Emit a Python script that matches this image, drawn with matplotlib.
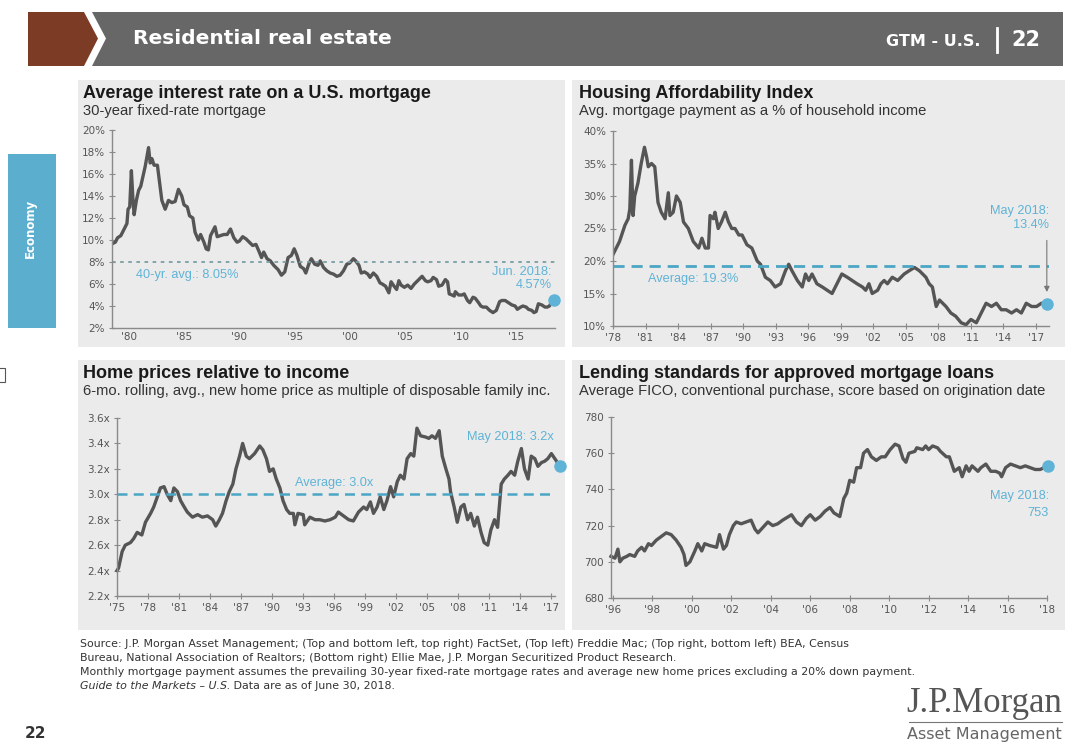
import matplotlib.pyplot as plt
from matplotlib.patches import Rectangle, Polygon
from matplotlib import font_manager as fm

# ---- data ----
# Average interest rate on a U.S. mortgage (30-yr fixed), %
rate_years = [1978.6, 1978.8, 1979.0, 1979.3, 1979.6, 1979.85, 1979.95, 1980.1, 1980.25, 1980.4,
              1980.5, 1980.7, 1980.9, 1981.1, 1981.3, 1981.5, 1981.8, 1981.95, 1982.1, 1982.3,
              1982.6, 1983.0, 1983.3, 1983.6, 1983.9, 1984.2, 1984.5, 1984.8, 1985.0, 1985.3,
              1985.5, 1985.8, 1986.0, 1986.3, 1986.5, 1986.8, 1987.0, 1987.2, 1987.4, 1987.8,
              1988.0, 1988.3, 1988.6, 1988.9, 1989.2, 1989.5, 1989.8, 1990.0, 1990.3, 1990.6,
              1990.9, 1991.2, 1991.5, 1991.8, 1992.0, 1992.2, 1992.5, 1992.8, 1993.1, 1993.5,
              1993.8, 1994.1, 1994.4, 1994.7, 1994.95, 1995.2, 1995.5, 1995.8, 1996.0, 1996.3,
              1996.5, 1996.8, 1997.1, 1997.3, 1997.6, 1997.9, 1998.2, 1998.5, 1998.8, 1999.1,
              1999.4, 1999.7, 1999.95, 2000.3, 2000.5, 2000.8, 2001.0, 2001.3, 2001.6, 2001.8,
              2002.1, 2002.4, 2002.7, 2002.9, 2003.2, 2003.5, 2003.7, 2003.9, 2004.2, 2004.4,
              2004.6, 2004.9, 2005.2, 2005.5, 2005.8, 2006.0, 2006.5, 2006.8, 2007.0, 2007.3,
              2007.5, 2007.8, 2008.0, 2008.3, 2008.6, 2008.8, 2008.95, 2009.2, 2009.4, 2009.5,
              2009.8, 2010.1, 2010.3, 2010.6, 2010.8, 2011.1, 2011.3, 2011.6, 2011.8, 2012.0,
              2012.3, 2012.6, 2012.9, 2013.2, 2013.5, 2013.7, 2014.0, 2014.3, 2014.6, 2014.9,
              2015.1, 2015.4, 2015.6, 2015.9, 2016.1, 2016.4, 2016.6, 2016.8, 2017.0, 2017.3,
              2017.6, 2017.8, 2018.0, 2018.2, 2018.45]
rate_vals = [9.7, 9.8, 10.2, 10.4, 11.0, 11.5, 12.8, 13.0, 16.3, 13.5,
             12.3, 13.6, 14.5, 14.9, 15.8, 16.7, 18.4, 17.0, 17.4, 16.8,
             16.8, 13.6, 12.8, 13.6, 13.4, 13.5, 14.6, 14.0, 13.2, 13.0,
             12.2, 12.0, 10.7, 10.0, 10.5, 9.8, 9.2, 9.1, 10.4, 11.2,
             10.3, 10.4, 10.5, 10.5, 11.0, 10.2, 9.8, 9.9, 10.3, 10.1,
             9.8, 9.5, 9.6, 8.9, 8.4, 8.9, 8.3, 8.1, 7.7, 7.3,
             6.8, 7.1, 8.4, 8.6, 9.2, 8.6, 7.6, 7.4, 7.0, 7.9,
             8.3, 7.8, 7.7, 8.1, 7.5, 7.2, 7.0, 6.9, 6.7, 6.8,
             7.2, 7.8, 7.9, 8.3, 8.1, 7.7, 7.0, 7.1, 6.9, 6.6,
             7.0, 6.7, 6.1, 6.0, 5.8, 5.2, 6.2, 5.9, 5.5, 6.3,
             5.9, 5.7, 5.9, 5.6, 6.0, 6.2, 6.7, 6.3, 6.2, 6.3,
             6.6, 6.4, 5.8, 5.9, 6.4, 6.2, 5.1, 5.0, 4.9, 5.3,
             5.0, 5.0, 5.1, 4.5, 4.3, 4.8, 4.7, 4.3, 4.0, 3.9,
             3.9, 3.6, 3.4, 3.6, 4.4, 4.5, 4.5, 4.3, 4.1, 4.0,
             3.7, 3.9, 4.0, 3.9, 3.7, 3.6, 3.4, 3.5, 4.2, 4.1,
             3.9, 3.9, 4.0, 4.4, 4.57]
rate_avg = 8.0

# Housing affordability: avg. mortgage payment as % of household income
afford_years = [1978.0, 1978.6, 1979.1, 1979.4, 1979.55, 1979.7, 1979.85, 1980.0, 1980.3, 1980.6,
                1980.9, 1981.1, 1981.25, 1981.55, 1981.85, 1982.15, 1982.45, 1982.8, 1983.1, 1983.25,
                1983.55, 1983.85, 1984.2, 1984.5, 1984.95, 1985.4, 1985.9, 1986.2, 1986.5, 1986.8,
                1986.95, 1987.25, 1987.4, 1987.7, 1988.0, 1988.35, 1988.65, 1988.95, 1989.25, 1989.6,
                1989.9, 1990.35, 1990.8, 1991.3, 1991.6, 1992.05, 1992.5, 1992.95, 1993.45, 1993.9,
                1994.2, 1994.5, 1995.0, 1995.45, 1995.75, 1996.05, 1996.35, 1996.8, 1997.3, 1997.75,
                1998.2, 1998.65, 1999.1, 1999.6, 2000.05, 2000.5, 2001.0, 2001.3, 2001.6, 2001.9,
                2002.4, 2002.7, 2003.0, 2003.3, 2003.75, 2004.25, 2004.55, 2004.85, 2005.3, 2005.8,
                2006.25, 2006.55, 2006.85, 2007.15, 2007.45, 2007.8, 2008.1, 2008.4, 2008.7, 2009.15,
                2009.6, 2010.1, 2010.55, 2011.0, 2011.5, 2011.95, 2012.4, 2012.9, 2013.35, 2013.8,
                2014.25, 2014.75, 2015.2, 2015.65, 2016.1, 2016.6, 2017.05, 2017.5, 2018.05]
afford_vals = [21.0, 23.0, 25.5, 26.5, 28.0, 35.5, 27.0, 30.0, 32.0, 35.0,
               37.5, 36.0, 34.5, 35.0, 34.5, 29.0, 27.5, 26.5, 30.5, 27.0,
               27.5, 30.0, 29.0, 26.0, 25.0, 23.0, 22.0, 23.5, 22.0, 22.0,
               27.0, 26.5, 27.5, 25.0, 26.0, 27.5, 26.0, 25.0, 25.0, 24.0,
               24.0, 22.5, 22.0, 20.0, 19.5, 17.5, 17.0, 16.0, 16.5, 18.5,
               19.5, 18.5, 17.0, 16.0, 18.0, 17.0, 18.0, 16.5, 16.0, 15.5,
               15.0, 16.5, 18.0, 17.5, 17.0, 16.5, 16.0, 15.5, 16.5, 15.0,
               15.5, 16.5, 17.0, 16.5, 17.5, 17.0, 17.5, 18.0, 18.5, 19.0,
               18.5, 18.0, 17.5, 16.5, 16.0, 13.0, 14.0, 13.5, 13.0, 12.0,
               11.5, 10.5, 10.2, 11.0, 10.5, 12.0, 13.5, 13.0, 13.5, 12.5,
               12.5, 12.0, 12.5, 12.0, 13.5, 13.0, 13.0, 13.5, 13.4]
afford_avg = 19.3

# Home prices relative to income, multiple
price_years = [1975.0, 1975.15, 1975.5, 1975.8, 1976.3, 1976.6, 1976.95, 1977.4, 1977.75, 1978.25,
               1978.55, 1978.9, 1979.2, 1979.55, 1979.85, 1980.2, 1980.5, 1980.85, 1981.15, 1981.5,
               1981.8, 1982.3, 1982.8, 1983.25, 1983.75, 1984.25, 1984.55, 1984.9, 1985.2, 1985.55,
               1985.85, 1986.2, 1986.5, 1986.85, 1987.15, 1987.5, 1987.8, 1988.3, 1988.8, 1989.1,
               1989.45, 1989.75, 1990.1, 1990.4, 1990.75, 1991.05, 1991.4, 1991.7, 1992.05, 1992.2,
               1992.5, 1993.0, 1993.15, 1993.65, 1994.15, 1994.6, 1995.1, 1995.6, 1996.1, 1996.4,
               1996.9, 1997.4, 1997.85, 1998.35, 1998.85, 1999.15, 1999.5, 1999.8, 2000.15, 2000.45,
               2000.8, 2001.1, 2001.45, 2001.75, 2002.1, 2002.4, 2002.75, 2003.05, 2003.4, 2003.7,
               2004.0, 2004.35, 2004.85, 2005.15, 2005.45, 2005.8, 2006.15, 2006.45, 2006.8, 2007.1,
               2007.25, 2007.6, 2007.9, 2008.25, 2008.55, 2008.9, 2009.2, 2009.55, 2009.85, 2010.2,
               2010.5, 2010.85, 2011.15, 2011.5, 2011.8, 2012.15, 2012.45, 2012.8, 2013.1, 2013.45,
               2013.75, 2014.1, 2014.4, 2014.75, 2015.05, 2015.4, 2015.7, 2016.05, 2016.35, 2016.65,
               2017.0, 2017.5, 2017.8]
price_vals = [2.40, 2.42, 2.55, 2.60, 2.62, 2.65, 2.70, 2.68, 2.78, 2.85,
              2.90, 2.98, 3.05, 3.06, 3.00, 2.95, 3.05, 3.02, 2.95, 2.90,
              2.86, 2.82, 2.84, 2.82, 2.83, 2.80, 2.75, 2.80, 2.85, 2.95,
              3.02, 3.08, 3.20, 3.30, 3.40, 3.30, 3.28, 3.32, 3.38, 3.35,
              3.28, 3.18, 3.20, 3.12, 3.05, 2.95, 2.88, 2.85, 2.85, 2.76,
              2.85, 2.84, 2.76, 2.82, 2.80, 2.80, 2.79, 2.80, 2.82, 2.86,
              2.83, 2.80, 2.79, 2.86, 2.90, 2.88, 2.94, 2.85, 2.90, 2.98,
              2.88, 2.95, 3.06, 2.98, 3.10, 3.15, 3.12, 3.28, 3.32, 3.30,
              3.52, 3.46, 3.45, 3.44, 3.46, 3.44, 3.50, 3.30, 3.20, 3.12,
              3.02, 2.90, 2.78, 2.90, 2.92, 2.80, 2.85, 2.75, 2.82, 2.70,
              2.62, 2.60, 2.72, 2.80, 2.74, 3.08, 3.12, 3.15, 3.18, 3.15,
              3.26, 3.36, 3.20, 3.12, 3.30, 3.28, 3.22, 3.25, 3.26, 3.28,
              3.32, 3.26, 3.22]
price_avg = 3.0

# Lending standards: average FICO score
fico_years = [1995.9, 1996.1, 1996.25, 1996.35, 1996.5, 1996.7, 1996.85, 1997.1, 1997.25, 1997.45,
              1997.6, 1997.8, 1997.95, 1998.2, 1998.45, 1998.7, 1998.95, 1999.2, 1999.45, 1999.6,
              1999.7, 1999.9, 2000.15, 2000.3, 2000.5, 2000.65, 2000.9, 2001.25, 2001.4, 2001.6,
              2001.75, 2001.9, 2002.1, 2002.25, 2002.5, 2002.75, 2003.0, 2003.2, 2003.35, 2003.6,
              2003.85, 2004.1, 2004.35, 2004.6, 2004.9, 2005.05, 2005.3, 2005.55, 2005.8, 2006.0,
              2006.25, 2006.5, 2006.75, 2007.0, 2007.2, 2007.35, 2007.5, 2007.7, 2007.85, 2008.0,
              2008.2, 2008.35, 2008.55, 2008.7, 2008.9, 2009.1, 2009.35, 2009.6, 2009.8, 2010.05,
              2010.3, 2010.5, 2010.7, 2010.85, 2011.0, 2011.3, 2011.4, 2011.7, 2011.85, 2012.0,
              2012.2, 2012.45, 2012.6, 2012.9, 2013.05, 2013.3, 2013.55, 2013.7, 2013.9, 2014.05,
              2014.2, 2014.5, 2014.65, 2014.9, 2015.15, 2015.4, 2015.6, 2015.7, 2015.9, 2016.15,
              2016.4, 2016.65, 2016.9, 2017.15, 2017.4, 2017.65, 2018.05]
fico_vals = [703, 702, 707, 700, 702, 703, 704, 703, 706, 708,
             706, 710, 709, 712, 714, 716, 715, 712, 708, 704,
             698, 700, 706, 710, 706, 710, 709, 708, 715, 707,
             709, 715, 720, 722, 721, 722, 723, 718, 716, 719,
             722, 720, 721, 723, 725, 726, 722, 720, 724, 726,
             723, 725, 728, 730, 727, 726, 725, 735, 738, 745,
             744, 752, 752, 760, 762, 758, 756, 758, 758, 762,
             765, 764, 757, 755, 760, 761, 763, 762, 764, 762,
             764, 763, 761, 758, 758, 750, 752, 747, 753, 750,
             753, 750, 752, 754, 750, 750, 749, 747, 752, 754,
             753, 752, 753, 752, 751, 751, 753]

rate_ticks = [1980, 1985, 1990, 1995, 2000, 2005, 2010, 2015]
afford_ticks = list(range(1978, 2018, 3))
price_ticks = list(range(1975, 2018, 3))
fico_ticks = list(range(1996, 2019, 2))

# ---- style ----
W, H = 1080, 750
names = {f.name for f in fm.fontManager.ttflist}
narrow = 'Liberation Sans Narrow' if 'Liberation Sans Narrow' in names else 'DejaVu Sans Condensed'
plt.rcParams['font.family'] = 'Liberation Sans'

LINE = '#555555'
AXC = '#8a8a8a'
TICKC = '#555555'
BLUE = '#5fb3d6'
PANEL = '#ebebeb'

fig = plt.figure(figsize=(W / 100, H / 100), dpi=100)
fig.patch.set_facecolor('white')

bg = fig.add_axes([0, 0, 1, 1], zorder=0)
bg.set_xlim(0, W)
bg.set_ylim(H, 0)
bg.axis('off')

# header
bg.add_patch(Polygon([(28, 12), (84, 12), (98, 38.5), (84, 66), (28, 66)], closed=True, color='#7b3b24', lw=0))
bg.add_patch(Polygon([(92, 12), (1063, 12), (1063, 66), (92, 66), (106, 38.5)], closed=True, color='#676767', lw=0))
bg.text(133, 39, 'Residential real estate', color='white', fontsize=14.5, fontweight='bold',
        family=narrow, va='center', ha='left')
bg.text(981, 41, 'GTM - U.S.', color='white', fontsize=11.5, fontweight='bold', family=narrow, va='center', ha='right')
bg.plot([997, 997], [28, 52], color='white', lw=2)
bg.text(1040, 40, '22', color='white', fontsize=15, fontweight='bold', family=narrow, va='center', ha='right')

# side tab
bg.add_patch(Rectangle((8, 154), 48, 174, color='#5baece', lw=0))
bg.text(30, 228, 'Economy', color='white', fontsize=8.5, fontweight='bold', family=narrow,
        rotation=90, va='center', ha='center')
bg.add_patch(Rectangle((-2, 368), 7, 14, fill=False, ec='#555555', lw=0.8))

# panels
for (x0, y0, x1, y1) in [(78, 80, 565, 347), (572, 80, 1065, 347), (78, 360, 565, 630), (572, 360, 1065, 630)]:
    bg.add_patch(Rectangle((x0, y0), x1 - x0, y1 - y0, color=PANEL, lw=0))

titles = [
    (83, 'Average interest rate on a U.S. mortgage', '30-year fixed-rate mortgage', 85),
    (579, 'Housing Affordability Index', 'Avg. mortgage payment as a % of household income', 85),
    (83, 'Home prices relative to income', '6-mo. rolling, avg., new home price as multiple of disposable family inc.', 365),
    (579, 'Lending standards for approved mortgage loans', 'Average FICO, conventional purchase, score based on origination date', 365),
]
for x, t, s, y in titles:
    bg.text(x, y, t, fontsize=13, fontweight='bold', color='#1a1a1a', va='top', ha='left')
    bg.text(x, y + 19, s, fontsize=10.6, color='#333333', va='top', ha='left')

# footer
foot = ['Source: J.P. Morgan Asset Management; (Top and bottom left, top right) FactSet, (Top left) Freddie Mac; (Top right, bottom left) BEA, Census',
        'Bureau, National Association of Realtors; (Bottom right) Ellie Mae, J.P. Morgan Securitized Product Research.',
        'Monthly mortgage payment assumes the prevailing 30-year fixed-rate mortgage rates and average new home prices excluding a 20% down payment.']
for i, line in enumerate(foot):
    bg.text(80, 644 + i * 14, line, fontsize=7.9, family=narrow, color='#333333', va='center', ha='left')
guide = bg.text(80, 686, 'Guide to the Markets \u2013 U.S.', fontsize=7.9, family=narrow, style='italic',
                color='#333333', va='center', ha='left')
bg.annotate(' Data are as of June 30, 2018.', xy=(1, 0.5), xycoords=guide, fontsize=7.9, family=narrow,
            color='#333333', va='center', ha='left')
bg.text(25, 733, '22', fontsize=11, fontweight='bold', family=narrow, color='#333333', va='center', ha='left')
bg.text(1062, 704, 'J.P.Morgan', fontsize=25, family='Liberation Serif', color='#555555', va='center', ha='right')
bg.plot([909, 1062], [722, 722], color='#777777', lw=0.8)
bg.text(1062, 734, 'Asset Management', fontsize=11.5, family=narrow, color='#666666', va='center', ha='right')


def make_ax(x0, y0, x1, y1):
    ax = fig.add_axes([x0 / W, 1 - y1 / H, (x1 - x0) / W, (y1 - y0) / H], zorder=2)
    ax.patch.set_alpha(0)
    for s in ['top', 'right']:
        ax.spines[s].set_visible(False)
    for s in ['left', 'bottom']:
        ax.spines[s].set_color(AXC)
        ax.spines[s].set_linewidth(1.0)
    ax.tick_params(axis='both', colors=AXC, direction='inout', length=4, width=0.8,
                   labelsize=7.5, labelcolor=TICKC, pad=3)
    return ax


def yr_labels(ticks):
    return ["'" + str(t)[2:] for t in ticks]


# top left: mortgage rate
ax = make_ax(112, 130, 555, 328)
ax.plot(rate_years, rate_vals, color=LINE, lw=2.4, solid_joinstyle='round')
ax.axhline(rate_avg, color='#7a9ea3', lw=1.3, ls=(0, (2, 2.5)))
ax.plot(rate_years[-1], rate_vals[-1], 'o', color=BLUE, ms=8, clip_on=False, zorder=5)
ax.set_xlim(1978.5, 2018.5)
ax.set_ylim(2, 20)
ax.set_yticks(range(2, 21, 2))
ax.set_yticklabels([f'{v}%' for v in range(2, 21, 2)], family=narrow)
ax.set_xticks(rate_ticks)
ax.set_xticklabels(yr_labels(rate_ticks), family=narrow)
ax.tick_params(axis='x', length=0)
ax.text(1985.3, 6.8, '40-yr. avg.: 8.05%', color=BLUE, fontsize=9.2, ha='center', va='center')
ax.text(2018.2, 6.5, 'Jun. 2018:\n4.57%', color=BLUE, fontsize=9.2, ha='right', va='center', linespacing=1.2)

# top right: affordability
ax = make_ax(613, 131, 1049, 326)
ax.plot(afford_years, afford_vals, color=LINE, lw=2.4, solid_joinstyle='round')
ax.axhline(afford_avg, color='#4aa6c4', lw=2, ls=(0, (4, 2.5)))
ax.plot(afford_years[-1], afford_vals[-1], 'o', color=BLUE, ms=8, clip_on=False, zorder=5)
ax.annotate('', xy=(2018.0, 14.8), xytext=(2018.0, 23.6),
            arrowprops=dict(arrowstyle='-|>', color='#777777', lw=0.8, mutation_scale=8))
ax.set_xlim(1978, 2018.2)
ax.set_ylim(10, 40)
ax.set_yticks(range(10, 41, 5))
ax.set_yticklabels([f'{v}%' for v in range(10, 41, 5)], family=narrow)
ax.set_xticks(afford_ticks)
ax.set_xticklabels(yr_labels(afford_ticks), family=narrow)
ax.text(1985.4, 17.2, 'Average: 19.3%', color=BLUE, fontsize=9.2, ha='center', va='center')
ax.text(2018.2, 26.6, 'May 2018:\n13.4%', color=BLUE, fontsize=9.2, ha='right', va='center', linespacing=1.2)

# bottom left: home prices / income
ax = make_ax(117, 418, 555, 596)
ax.plot(price_years, price_vals, color=LINE, lw=2.4, solid_joinstyle='round', clip_on=False)
ax.axhline(price_avg, color='#4aa6c4', lw=1.8, ls=(0, (4, 2.5)))
ax.plot(price_years[-1], price_vals[-1], 'o', color=BLUE, ms=8, clip_on=False, zorder=5)
ax.set_xlim(1975, 2017.35)
ax.set_ylim(2.2, 3.6)
pt = [2.2, 2.4, 2.6, 2.8, 3.0, 3.2, 3.4, 3.6]
ax.set_yticks(pt)
ax.set_yticklabels([f'{v:.1f}x' for v in pt], family=narrow)
ax.set_xticks(price_ticks)
ax.set_xticklabels(yr_labels(price_ticks), family=narrow)
ax.text(1996.0, 3.09, 'Average: 3.0x', color=BLUE, fontsize=9.2, ha='center', va='center')
ax.text(2017.2, 3.45, 'May 2018: 3.2x', color=BLUE, fontsize=9.2, ha='right', va='center')

# bottom right: FICO
ax = make_ax(611, 417, 1047, 598)
ax.plot(fico_years, fico_vals, color=LINE, lw=2.4, solid_joinstyle='round', clip_on=False)
ax.plot(fico_years[-1], fico_vals[-1], 'o', color=BLUE, ms=8, clip_on=False, zorder=5)
ax.set_xlim(1995.9, 2018.0)
ax.set_ylim(680, 780)
ax.set_yticks(range(680, 781, 20))
ax.set_yticklabels([str(v) for v in range(680, 781, 20)], family=narrow)
ax.set_xticks(fico_ticks)
ax.set_xticklabels(yr_labels(fico_ticks), family=narrow)
ax.text(2018.1, 731.6, 'May 2018:\n753', color=BLUE, fontsize=9.2, ha='right', va='center', linespacing=1.5)

fig.savefig('out.png', dpi=100)
